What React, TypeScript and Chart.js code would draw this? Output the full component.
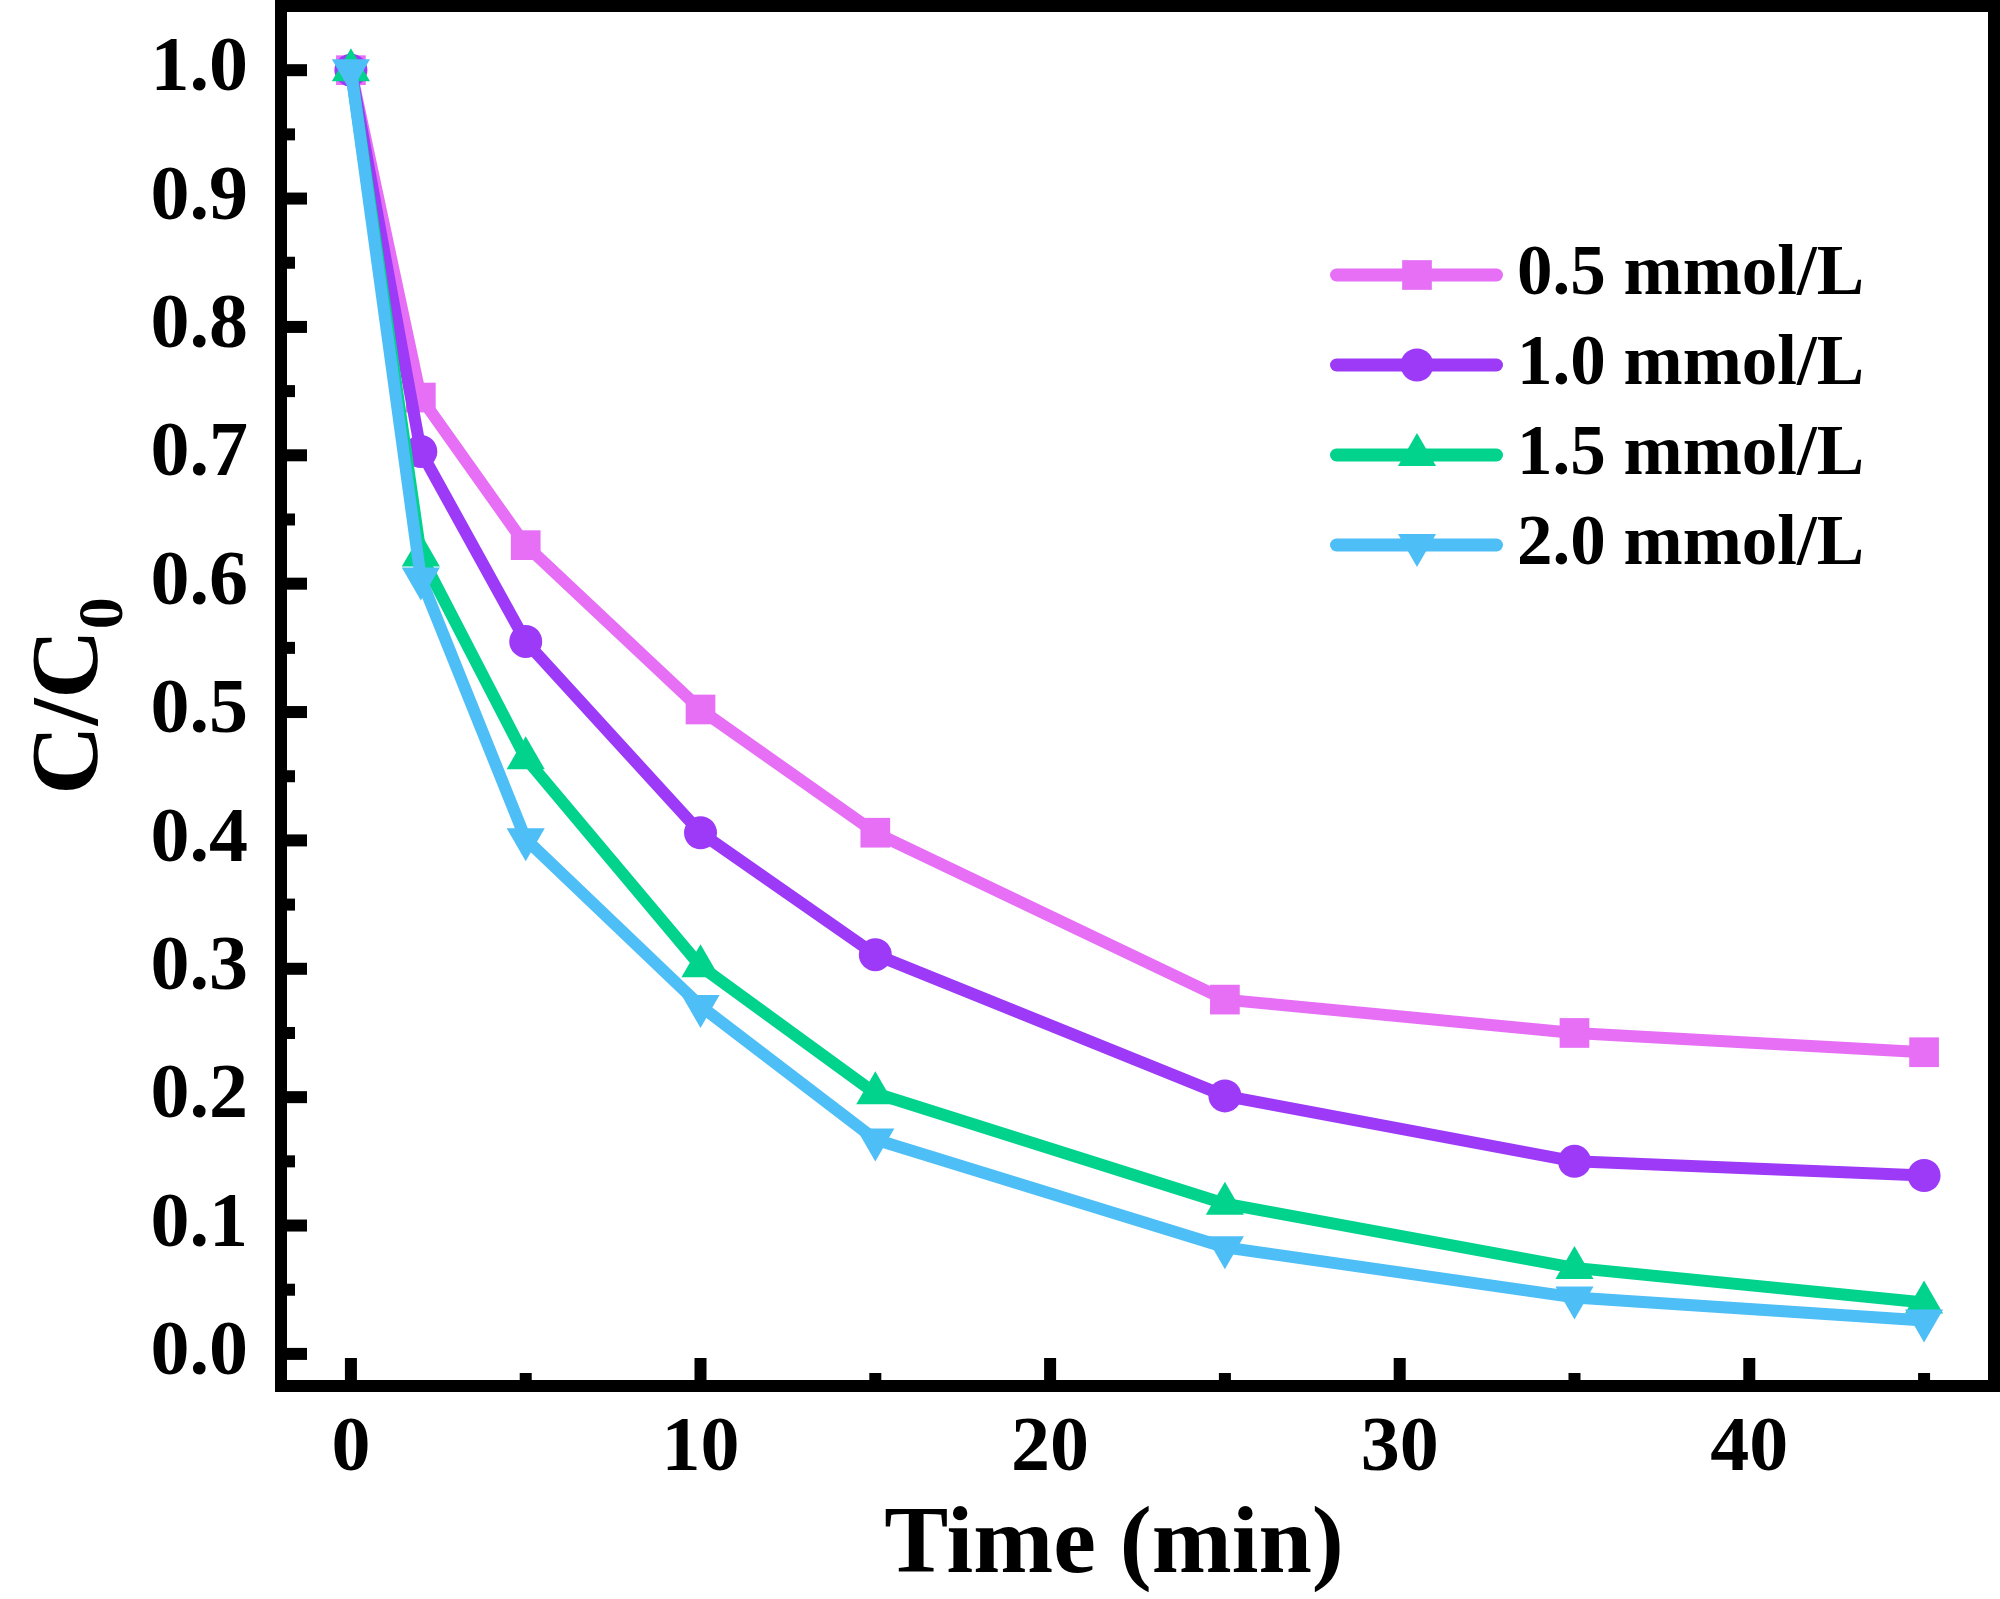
import React, { useEffect, useRef } from "react";
import { Chart, registerables } from "chart.js";

Chart.register(...registerables);

// ---- data ----
const times = [0, 2, 5, 10, 15, 25, 35, 45];
const seriesLabels = ["0.5 mmol/L", "1.0 mmol/L", "1.5 mmol/L", "2.0 mmol/L"];
const conc05 = [1.0, 0.745, 0.63, 0.502, 0.406, 0.276, 0.25, 0.235];
const conc10 = [1.0, 0.703, 0.555, 0.406, 0.311, 0.201, 0.15, 0.139];
const conc15 = [1.0, 0.622, 0.464, 0.302, 0.203, 0.117, 0.067, 0.04];
const conc20 = [1.0, 0.604, 0.401, 0.271, 0.167, 0.083, 0.044, 0.026];
const seriesColors = ["#E66FF6", "#9C3AF8", "#02D38C", "#4EBEF7"];
const pointStyles = ["rect", "circle", "triangle", "triangle"];
const pointRotations = [0, 0, 0, 180];
const pointRadii = [21, 16.5, 22, 22];

const xMinorTicks = [5, 15, 25, 35, 45];
const xMajorTicks = [0, 10, 20, 30, 40];
const yMajorTicks = [0, 0.1, 0.2, 0.3, 0.4, 0.5, 0.6, 0.7, 0.8, 0.9, 1.0];
const yMinorTicks = [0.05, 0.15, 0.25, 0.35, 0.45, 0.55, 0.65, 0.75, 0.85, 0.95];

const xTitle = "Time (min)";
const yTitleMain = "C/C";
const yTitleSub = "0";

const FONT = '"Liberation Serif", "Times New Roman", serif';

function drawMarker(ctx: CanvasRenderingContext2D, style: string, x: number, y: number, r: number, rotDeg: number) {
  ctx.beginPath();
  if (style === "rect") {
    const s = Math.SQRT1_2 * r;
    ctx.rect(x - s, y - s, 2 * s, 2 * s);
  } else if (style === "circle") {
    ctx.arc(x, y, r, 0, Math.PI * 2);
  } else {
    let rad = (rotDeg * Math.PI) / 180;
    ctx.moveTo(x + Math.sin(rad) * r, y - Math.cos(rad) * r);
    rad += (2 * Math.PI) / 3;
    ctx.lineTo(x + Math.sin(rad) * r, y - Math.cos(rad) * r);
    rad += (2 * Math.PI) / 3;
    ctx.lineTo(x + Math.sin(rad) * r, y - Math.cos(rad) * r);
    ctx.closePath();
  }
  ctx.fill();
}

const framePlugin = {
  id: "framePlugin",
  afterDraw(chart: any) {
    const { ctx, chartArea } = chart;
    const xs = chart.scales.x;
    const ys = chart.scales.y;
    const { left, right, top, bottom } = chartArea;
    ctx.save();
    ctx.fillStyle = "#000";
    // ticks (inward)
    yMajorTicks.forEach((v) => {
      const py = ys.getPixelForValue(v);
      ctx.fillRect(left, py - 6, 26, 12);
    });
    yMinorTicks.forEach((v) => {
      const py = ys.getPixelForValue(v);
      ctx.fillRect(left, py - 6, 14, 12);
    });
    xMajorTicks.forEach((v) => {
      const px = xs.getPixelForValue(v);
      ctx.fillRect(px - 6, bottom - 28, 12, 28);
    });
    xMinorTicks.forEach((v) => {
      const px = xs.getPixelForValue(v);
      ctx.fillRect(px - 6, bottom - 13, 12, 13);
    });
    // frame
    ctx.strokeStyle = "#000";
    ctx.lineWidth = 12;
    ctx.strokeRect(left, top, right - left, bottom - top);

    // x title
    ctx.font = `bold 96px ${FONT}`;
    ctx.textAlign = "center";
    ctx.textBaseline = "alphabetic";
    ctx.fillText(xTitle, 1114, 1572);

    // y title with subscript
    ctx.font = `bold 96px ${FONT}`;
    const wMain = ctx.measureText(yTitleMain).width;
    ctx.font = `bold 64px ${FONT}`;
    const wSub = ctx.measureText(yTitleSub).width;
    const total = wMain + wSub;
    const cy = (top + bottom) / 2;
    ctx.translate(97, cy + total / 2);
    ctx.rotate(-Math.PI / 2);
    ctx.textAlign = "left";
    ctx.font = `bold 96px ${FONT}`;
    ctx.fillText(yTitleMain, 0, 0);
    ctx.font = `bold 64px ${FONT}`;
    ctx.fillText(yTitleSub, wMain, 25);
    ctx.restore();

    // legend
    ctx.save();
    const rowY = [275, 365, 455, 545];
    chart.data.datasets.forEach((ds: any, i: number) => {
      const y = rowY[i];
      ctx.strokeStyle = ds.borderColor;
      ctx.lineWidth = 13;
      ctx.lineCap = "round";
      ctx.beginPath();
      ctx.moveTo(1336.5, y);
      ctx.lineTo(1496.5, y);
      ctx.stroke();
      ctx.fillStyle = ds.borderColor;
      drawMarker(ctx, ds.pointStyle, 1417, y, ds.pointRadius, ds.pointRotation || 0);
      ctx.fillStyle = "#000";
      ctx.font = `bold 71px ${FONT}`;
      ctx.textAlign = "left";
      ctx.textBaseline = "middle";
      ctx.fillText(ds.label, 1517, y + 1);
    });
    ctx.restore();
  },
};

function zeroPad(s: any) {
  s.paddingTop = 0;
  s.paddingBottom = 0;
  s.paddingLeft = 0;
  s.paddingRight = 0;
}

export default function App() {
  const ref = useRef<HTMLCanvasElement | null>(null);
  useEffect(() => {
    if (!ref.current) return;
    const allSeries = [conc05, conc10, conc15, conc20];
    const datasets = allSeries.map((vals, i) => ({
      label: seriesLabels[i],
      data: times.map((t, j) => ({ x: t, y: vals[j] })),
      borderColor: seriesColors[i],
      backgroundColor: seriesColors[i],
      borderWidth: 12,
      borderJoinStyle: "round" as const,
      pointStyle: pointStyles[i],
      pointRotation: pointRotations[i],
      pointRadius: pointRadii[i],
      pointBorderWidth: 0,
      pointBackgroundColor: seriesColors[i],
      pointBorderColor: seriesColors[i],
      fill: false,
      tension: 0,
      order: 3 - i,
    }));
    const chart = new Chart(ref.current, {
      type: "line",
      data: { datasets },
      options: {
        animation: false,
        responsive: true,
        maintainAspectRatio: false,
        layout: { autoPadding: false, padding: { top: 6, right: 6, left: 0, bottom: 0 } },
        plugins: { legend: { display: false }, tooltip: { enabled: false } },
        scales: {
          x: {
            type: "linear",
            min: -2,
            max: 47,
            afterFit: (s: any) => {
              s.height = 213;
              zeroPad(s);
            },
            grid: { display: false, drawTicks: false, tickLength: 0 },
            border: { display: false },
            ticks: {
              stepSize: 10,
              includeBounds: false,
              autoSkip: false,
              maxRotation: 0,
              padding: 17,
              color: "#000",
              font: { family: FONT, size: 78, weight: "bold" },
              callback: (v: any) => String(v),
            },
          },
          y: {
            type: "linear",
            min: -0.025,
            max: 1.05,
            afterFit: (s: any) => {
              s.width = 281;
              zeroPad(s);
            },
            grid: { display: false, drawTicks: false, tickLength: 0 },
            border: { display: false },
            ticks: {
              stepSize: 0.1,
              includeBounds: false,
              autoSkip: false,
              padding: 33,
              color: "#000",
              font: { family: FONT, size: 78, weight: "bold" },
              callback: (v: any) => Number(v).toFixed(1),
            },
          },
        },
      } as any,
      plugins: [framePlugin],
    });
    return () => chart.destroy();
  }, []);
  return (
    <div style={{ position: "fixed", left: 0, top: 0, width: 2000, height: 1599, background: "#fff" }}>
      <canvas ref={ref} />
    </div>
  );
}
